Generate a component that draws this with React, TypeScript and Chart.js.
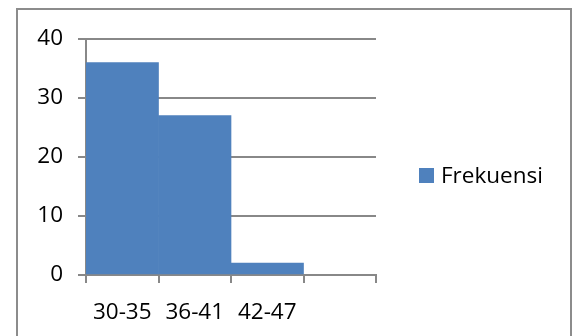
import React, { useEffect, useRef } from "react";
import { Chart, registerables } from "chart.js";

Chart.register(...registerables);

const categories = ["30-35", "36-41", "42-47", ""];
const frekuensi: (number | null)[] = [36, 27, 2, null];
const seriesName = "Frekuensi";
const yMin = 0;
const yMax = 40;
const yStep = 10;

const FONT = "'Open Sans', sans-serif";
const BAR = "#4F81BD";
const GRID = "#888888";

export default function App() {
  const ref = useRef<HTMLCanvasElement | null>(null);

  useEffect(() => {
    if (!ref.current) return;
    const chart = new Chart(ref.current, {
      type: "bar",
      data: {
        labels: categories,
        datasets: [
          {
            label: seriesName,
            data: frekuensi,
            backgroundColor: BAR,
            borderWidth: 0,
            barPercentage: 1,
            categoryPercentage: 1,
          },
        ],
      },
      options: {
        responsive: false,
        animation: false,
        layout: { padding: { left: 0, top: 39, right: 204, bottom: 0 } },
        plugins: { legend: { display: false }, tooltip: { enabled: false } },
        scales: {
          x: {
            offset: true,
            grid: {
              display: true,
              offset: true,
              drawOnChartArea: false,
              drawTicks: true,
              tickLength: 8,
              color: GRID,
              lineWidth: 2,
            },
            border: { display: true, color: GRID, width: 2 },
            ticks: {
              color: "#000",
              font: { family: FONT, size: 22.5 },
              padding: 16,
              maxRotation: 0,
              autoSkip: false,
            },
            afterFit: (s: any) => {
              s.height = 61;
            },
          },
          y: {
            min: yMin,
            max: yMax,
            grid: {
              color: GRID,
              lineWidth: 2,
              drawTicks: true,
              tickLength: 8,
            },
            border: { display: true, color: GRID, width: 2 },
            ticks: {
              stepSize: yStep,
              color: "#000",
              font: { family: FONT, size: 22.5 },
              padding: 15,
            },
            afterFit: (s: any) => {
              s.width = 86;
            },
          },
        },
      },
    });
    return () => chart.destroy();
  }, []);

  return (
    <div
      style={{
        position: "fixed",
        left: 0,
        top: 0,
        width: 580,
        height: 336,
        overflow: "hidden",
        background: "#fff",
      }}
    >
      <div
        style={{
          position: "absolute",
          left: 16,
          top: 8,
          width: 552,
          height: 400,
          border: "2px solid #8c8c8c",
          boxSizing: "content-box",
        }}
      />
      <canvas
        ref={ref}
        width={580}
        height={336}
        style={{ position: "absolute", left: 0, top: 0, width: 580, height: 336 }}
      />
      <div
        style={{
          position: "absolute",
          left: 419,
          top: 168,
          width: 15,
          height: 15,
          background: BAR,
        }}
      />
      <div
        style={{
          position: "absolute",
          left: 441,
          top: 163.5,
          fontFamily: FONT,
          fontSize: 22.5,
          lineHeight: "22px",
          color: "#000",
          whiteSpace: "nowrap",
        }}
      >
        {seriesName}
      </div>
    </div>
  );
}
